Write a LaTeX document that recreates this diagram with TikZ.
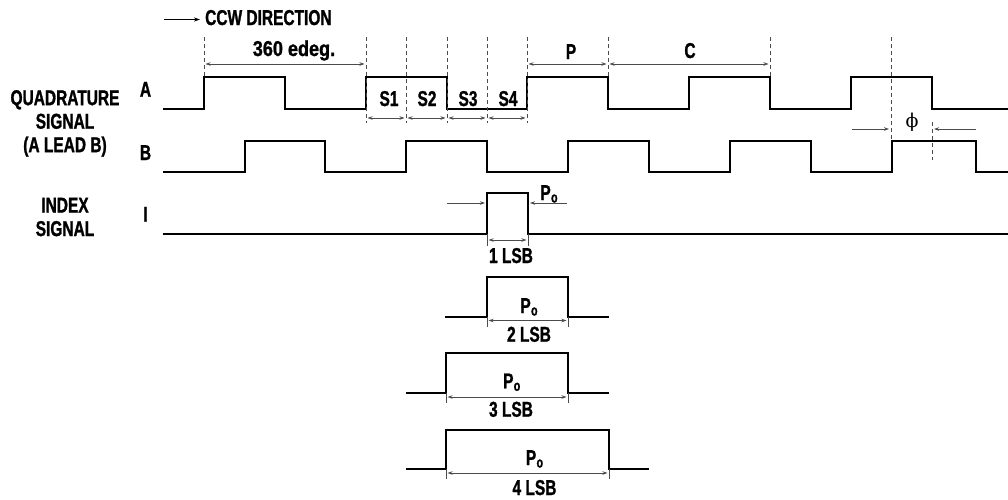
\documentclass[tikz,border=0pt]{standalone}
\usepackage{fontspec}
\setmainfont{Liberation Sans}[FakeStretch=0.72, BoldFeatures={FakeBold=1.2}]
\newfontfamily\widefont{Liberation Sans}[FakeStretch=0.84, BoldFeatures={FakeBold=1.2}]
\newfontfamily\phifont{DejaVu Serif}
\usetikzlibrary{arrows.meta, positioning}
\tikzset{
	sig/.style={line width=2.6pt},
	guide/.style={line width=0.9pt, black!70, dash pattern=on 4pt off 3pt},
	dim/.style={line width=0.8pt, black!70, shorten <=1.5pt, shorten >=1.5pt,
		{Stealth[length=5pt,width=3.5pt]}-{Stealth[length=5pt,width=3.5pt]}},
	pointer/.style={line width=0.8pt, black!70, shorten >=2pt, -{Stealth[length=5pt,width=3.5pt]}},
	tick/.style={line width=0.8pt, black!70}
}
\newcommand{\Po}{P\kern0.3pt\raisebox{-2.5pt}{\fontsize{15}{15}\selectfont o}}

\begin{document}
\begin{tikzpicture}[x=1pt, y=-1pt,
	lbl/.style={font=\fontsize{21.5}{23.5}\selectfont\bfseries, inner sep=0pt, align=center},
	lblwide/.style={lbl, font=\fontsize{21.5}{23.5}\selectfont\widefont\bfseries},
	sym/.style={font=\fontsize{19}{19}\selectfont\phifont, inner sep=0pt}]
\useasboundingbox (0,0) rectangle (1008,499);

% direction of rotation
\node[lbl, anchor=base west] (ccw) at (205,25) {CCW DIRECTION};
\coordinate (ccw tail) at (164,19.5);
\draw[line width=1.4pt, shorten >=5pt, -{Stealth[length=6pt,width=4pt]}] (ccw tail) -- (ccw tail -| ccw.west);

% signal names
\node[lbl] (quad) at (65,123.4) {QUADRATURE\\SIGNAL\\(A LEAD B)};
\node[lbl] (index) at (65,217) {INDEX\\SIGNAL};
\node[lbl, anchor=base] (nameA) at (145.5,96.7) {A};
\node[lbl, anchor=base] (nameB) at (145.5,160) {B};
\node[lbl, anchor=base] (nameI) at (145.5,221.7) {I};

% waveforms
\draw[sig] (163,109) -| (204,77) -| (285,109) -| (366,77) -| (447,109) -| (527,77) -| (608,109)
	-| (689,77) -| (770,109) -| (851,77) -| (932,109) -- (1008,109);
\draw[sig] (163,172) -| (245,141) -| (325,172) -| (406,141) -| (487,172) -| (568,141) -| (649,172)
	-| (730,141) -| (811,172) -| (892,141) -| (976,172) -- (1008,172);
\draw[sig] (163,234) -| (487,193) -| (528,234) -- (1008,234);

% guide lines
\foreach \n/\x/\top/\bot in {0/204/37/77, 1/366/37/123, 2/406/37/123, 3/447/37/123, 4/487/37/123,
	5/527/37/123, 6/608/37/77, 7/770/37/77, 8/891/37/140, 9/932/122/160} {
	\coordinate (g\n) at (\x,\top);
	\draw[guide] (g\n) -- (\x,\bot);
}

% one turn, steps, pulse and cycle
\coordinate (turn) at (0,64);
\draw[dim] (turn -| g0) -- (turn -| g1);
\node[lblwide, anchor=base] (deg) at (294,56) {360 edeg.};
\coordinate (step) at (0,118);
\foreach \a/\b/\n/\x in {1/2/1/389, 2/3/2/427, 3/4/3/468, 4/5/4/508} {
	\draw[dim] (step -| g\a) -- (step -| g\b);
	\node[lbl, anchor=base] (s\n) at (\x,106) {S\n};
}
\draw[dim] (turn -| g5) -- (turn -| g6);
\node[lbl, anchor=base] (pulse) at (571,59) {P};
\draw[dim] (turn -| g6) -- (turn -| g7);
\node[lbl, anchor=base] (cycle) at (690,58) {C};

% phase
\node[sym] (phi) at (912,122) {ϕ};
\coordinate (phi left) at (852,129);
\coordinate (phi right) at (976,129);
\draw[pointer] (phi left) -- (phi left -| g8);
\draw[pointer] (phi right) -- (phi right -| g9);

% index pulse, 1 LSB
\coordinate (po left) at (447,203);
\coordinate (po right) at (567,203);
\coordinate (po1 a) at (487,240);
\coordinate (po1 b) at (528,240);
\draw[pointer] (po left) -- (po left -| po1 a);
\draw[pointer] (po right) -- (po right -| po1 b);
\node[lbl, anchor=base] (po1) at (549,200) {\Po};
\draw[tick] (487,234) -- (487,246) (528,234) -- (528,246);
\draw[dim] (po1 a) -- (po1 b);
\node[lbl, anchor=base] (lsb1) at (511,263) {1 LSB};

% 2 LSB
\draw[sig] (445,317) -| (487,277) -| (568,317) -- (609,317);
\draw[tick] (487,317) -- (487,327) (568,317) -- (568,327);
\coordinate (po2 a) at (487,320.5);
\coordinate (po2 b) at (568,320.5);
\draw[dim] (po2 a) -- (po2 b);
\node[lbl, anchor=base] (po2) at (529,313) {\Po};
\node[lbl, anchor=base] (lsb2) at (529,341.7) {2 LSB};

% 3 LSB
\draw[sig] (406,393) -| (446,353) -| (568,393) -- (609,393);
\draw[tick] (446,393) -- (446,403) (568,393) -- (568,403);
\coordinate (po3 a) at (446,397);
\coordinate (po3 b) at (568,397);
\draw[dim] (po3 a) -- (po3 b);
\node[lbl, anchor=base] (po3) at (511.7,388.3) {\Po};
\node[lbl, anchor=base] (lsb3) at (511,416.7) {3 LSB};

% 4 LSB
\draw[sig] (406,469) -| (446,430) -| (609,469) -- (649,469);
\draw[tick] (446,469) -- (446,479) (609,469) -- (609,479);
\coordinate (po4 a) at (446,473);
\coordinate (po4 b) at (609,473);
\draw[dim] (po4 a) -- (po4 b);
\node[lbl, anchor=base] (po4) at (534.5,465) {\Po};
\node[lbl, anchor=base] (lsb4) at (534.5,495) {4 LSB};
\end{tikzpicture}
\end{document}
